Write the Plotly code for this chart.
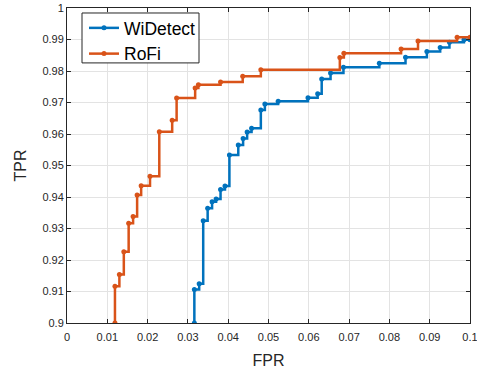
import plotly.graph_objects as go

# RoFi ROC step points (FPR where the step happens, TPR level after step)
rofi_fpr = [0.0119, 0.0119, 0.0130, 0.0141, 0.0153, 0.0164, 0.0174, 0.0184, 0.0206,
            0.0229, 0.0261, 0.0272, 0.0318, 0.0326, 0.0381, 0.0436, 0.0481,
            0.0677, 0.0687, 0.0829, 0.0871, 0.0968, 0.1000]
rofi_tpr = [0.9000, 0.9117, 0.9154, 0.9226, 0.9317, 0.9338, 0.9406, 0.9436, 0.9466,
            0.9607, 0.9644, 0.9714, 0.9746, 0.9756, 0.9765, 0.9783, 0.9804,
            0.9843, 0.9856, 0.9870, 0.9895, 0.9907, 0.9907]

# WiDetect ROC step points
wid_fpr = [0.0316, 0.0316, 0.0328, 0.0338, 0.0349, 0.0360, 0.0370, 0.0381, 0.0392,
           0.0403, 0.0425, 0.0437, 0.0447, 0.0458, 0.0481, 0.0491, 0.0524,
           0.0598, 0.0622, 0.0632, 0.0654, 0.0686, 0.0775, 0.0840, 0.0893,
           0.0926, 0.0949, 0.0985, 0.1000]
wid_tpr = [0.9000, 0.9106, 0.9125, 0.9325, 0.9364, 0.9385, 0.9394, 0.9424, 0.9435,
           0.9533, 0.9565, 0.9586, 0.9606, 0.9618, 0.9676, 0.9695, 0.9704,
           0.9715, 0.9728, 0.9775, 0.9794, 0.9812, 0.9825, 0.9844, 0.9862,
           0.9875, 0.9891, 0.9899, 0.9899]

x_ticks = [0, 0.01, 0.02, 0.03, 0.04, 0.05, 0.06, 0.07, 0.08, 0.09, 0.1]
x_tick_labels = ["0", "0.01", "0.02", "0.03", "0.04", "0.05", "0.06", "0.07", "0.08", "0.09", "0.1"]
y_ticks = [0.9, 0.91, 0.92, 0.93, 0.94, 0.95, 0.96, 0.97, 0.98, 0.99, 1.0]
y_tick_labels = ["0.9", "0.91", "0.92", "0.93", "0.94", "0.95", "0.96", "0.97", "0.98", "0.99", "1"]

BLUE = "#0072BD"
ORANGE = "#D95319"
FONT = "Liberation Sans, Arial, Helvetica, sans-serif"

W, H = 477, 370
ML, MR, MT, MB = 67, 7, 8, 46.5
PW, PH = W - ML - MR, H - MT - MB


def px_to_paper_x(px):
    return (px - ML) / PW


def px_to_paper_y(py):
    return (H - MB - py) / PH


fig = go.Figure()
fig.add_trace(go.Scatter(x=wid_fpr, y=wid_tpr, mode="lines+markers", name="WiDetect",
                         line=dict(color=BLUE, width=2.5, shape="hv"),
                         marker=dict(color=BLUE, size=5)))
fig.add_trace(go.Scatter(x=rofi_fpr, y=rofi_tpr, mode="lines+markers", name="RoFi",
                         line=dict(color=ORANGE, width=2.5, shape="hv"),
                         marker=dict(color=ORANGE, size=5)))

axis_common = dict(
    showgrid=True, gridcolor="#e3e3e3", gridwidth=1,
    showline=True, linecolor="#262626", linewidth=1, mirror="ticks",
    ticks="inside", ticklen=4, tickcolor="#262626", tickwidth=1,
    zeroline=False, automargin=False, ticklabeloverflow="allow",
    tickfont=dict(family=FONT, size=11, color="#262626"),
)

fig.update_xaxes(range=[0, 0.1], tickvals=x_ticks, ticktext=x_tick_labels,
                 ticklabelstandoff=4,
                 title=dict(text="FPR", font=dict(family=FONT, size=16, color="#262626"), standoff=12),
                 **axis_common)
fig.update_yaxes(range=[0.9, 1.0], tickvals=y_ticks, ticktext=y_tick_labels,
                 title=dict(text="TPR", font=dict(family=FONT, size=16, color="#262626"), standoff=11),
                 **axis_common)

# legend box (MATLAB style)
fig.add_shape(type="rect", xref="paper", yref="paper",
              x0=px_to_paper_x(82), x1=px_to_paper_x(199),
              y0=px_to_paper_y(63), y1=px_to_paper_y(13),
              fillcolor="white", line=dict(color="#262626", width=1), layer="above")

fig.update_layout(
    width=W, height=H,
    margin=dict(l=ML, r=MR, t=MT, b=MB),
    paper_bgcolor="white", plot_bgcolor="white",
    showlegend=True,
    legend=dict(x=px_to_paper_x(84), y=px_to_paper_y(10), xanchor="left", yanchor="top",
                bgcolor="rgba(0,0,0,0)", borderwidth=0,
                font=dict(family=FONT, size=17.5, color="#000000"),
                tracegroupgap=0, itemwidth=30),
    font=dict(family=FONT),
)

fig.write_html("out.html", config={"displayModeBar": False},
               post_script="document.body.style.margin='0px';")
